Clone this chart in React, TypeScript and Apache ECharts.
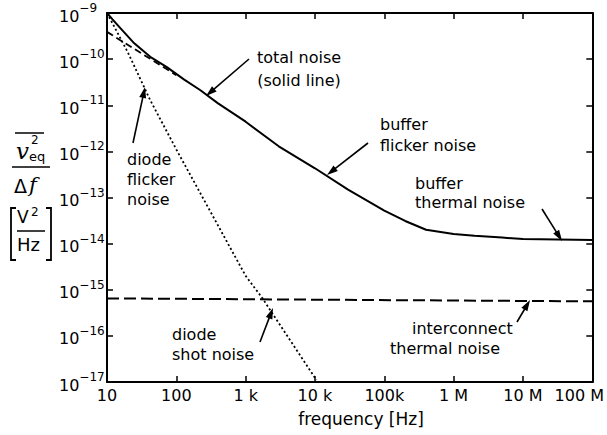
import React, { useEffect, useRef } from "react";
import * as echarts from "echarts";

// ---- data ----
const xTickLabels = ["10", "100", "1 k", "10 k", "100k", "1 M", "10 M", "100 M"];

const totalFreq = [10, 12, 15, 24, 42, 73, 130, 220, 400, 1e3, 3e3, 1e4, 3e4, 1e5, 2e5, 4e5, 1e6, 2e6, 5e6, 1e7, 1e8];
const totalNoise = [1e-9, 7.3e-10, 5.0e-10, 2.3e-10, 1.12e-10, 6.7e-11, 3.6e-11, 2.14e-11, 1.1e-11, 4.4e-12, 1.29e-12, 4.3e-13, 1.48e-13, 5.2e-14, 3.1e-14, 2.0e-14, 1.62e-14, 1.48e-14, 1.35e-14, 1.26e-14, 1.2e-14];

const diodeFreq = [10, 20, 42, 100, 1000, 1740, 10500];
const diodeNoise = [1e-9, 1.4e-10, 1.29e-11, 1.1e-12, 2.0e-15, 6.6e-16, 1.1e-17];

const bufferFlickerFreq = [10, 100];
const bufferFlickerNoise = [3.9e-10, 4.5e-11];

const interconnectFreq = [10, 1e8];
const interconnectNoise = [6.5e-16, 5.6e-16];

const FONT = "DejaVu Sans";

function pairs(xs: number[], ys: number[]) {
  return xs.map((x, i) => [x, ys[i]]);
}

function arrow(x1: number, y1: number, x2: number, y2: number) {
  const dx = x2 - x1, dy = y2 - y1;
  const L = Math.hypot(dx, dy);
  const ux = dx / L, uy = dy / L;
  const hl = 11, hw = 3.5;
  const bx = x2 - ux * hl, by = y2 - uy * hl;
  return [
    { type: "line", shape: { x1, y1, x2: bx + ux * 2, y2: by + uy * 2 }, style: { stroke: "#000", lineWidth: 1.6 } },
    {
      type: "polygon",
      shape: { points: [[x2, y2], [bx - uy * hw, by + ux * hw], [bx + uy * hw, by - ux * hw]] },
      style: { fill: "#000" },
    },
  ];
}

function txt(text: string, x: number, y: number, opts: any = {}) {
  return {
    type: "text",
    x,
    y,
    style: {
      text,
      fill: "#000",
      fontFamily: FONT,
      fontSize: 16,
      align: "left",
      verticalAlign: "middle",
      ...opts,
    },
  };
}

export default function App() {
  const ref = useRef<HTMLDivElement>(null);

  useEffect(() => {
    const chart = echarts.init(ref.current!, null, { renderer: "svg" });

    const axisLine = { show: true, lineStyle: { color: "#000", width: 2 } };
    const axisTick = { show: true, inside: true, length: 6, lineStyle: { color: "#000", width: 1.5 } };

    const graphic: any[] = [
      // annotations
      txt("total noise", 299, 57, { align: "center" }),
      txt("(solid line)", 299, 80, { align: "center" }),
      ...arrow(249, 59, 206, 96),

      txt("buffer", 380, 124),
      txt("flicker noise", 380, 145),
      ...arrow(368, 143, 327, 175),

      txt("buffer", 415, 183),
      txt("thermal noise", 415, 202),
      ...arrow(542, 209, 562, 241),

      txt("diode", 127, 159),
      txt("flicker", 127, 179),
      txt("noise", 127, 199),
      ...arrow(133, 143, 145, 87),

      txt("diode", 172, 334),
      txt("shot noise", 172, 354),
      ...arrow(260, 342, 273, 308),

      txt("interconnect", 412, 328),
      txt("thermal noise", 390, 348),
      ...arrow(517, 322, 530, 300),

      // x axis title
      txt("frequency [Hz]", 361, 419, { align: "center", fontSize: 17 }),

      // y axis title: overline v^2_eq / Δf, [V^2/Hz]
      { type: "line", shape: { x1: 15, y1: 133, x2: 44, y2: 133 }, style: { stroke: "#000", lineWidth: 1.5 } },
      txt("v", 16, 151, { fontFamily: "DejaVu Serif", fontStyle: "italic", fontSize: 23 }),
      txt("2", 31, 140, { fontSize: 12 }),
      txt("eq", 29, 156, { fontSize: 13 }),
      { type: "line", shape: { x1: 12, y1: 167, x2: 50, y2: 167 }, style: { stroke: "#000", lineWidth: 1.5 } },
      txt("Δ", 14, 186, { fontSize: 19 }),
      txt("f", 29, 185, { fontFamily: "DejaVu Serif", fontStyle: "italic", fontSize: 21 }),
      {
        type: "polyline",
        shape: { points: [[16, 208], [11, 208], [11, 260], [16, 260]] },
        style: { stroke: "#000", lineWidth: 1.8, fill: null },
      },
      {
        type: "polyline",
        shape: { points: [[46, 208], [51, 208], [51, 260], [46, 260]] },
        style: { stroke: "#000", lineWidth: 1.8, fill: null },
      },
      txt("V", 17, 217, { fontSize: 17 }),
      txt("2", 31, 212, { fontSize: 12 }),
      { type: "line", shape: { x1: 17, y1: 231, x2: 45, y2: 231 }, style: { stroke: "#000", lineWidth: 1.5 } },
      txt("Hz", 17, 244, { fontSize: 18 }),
    ];

    const option: any = {
      animation: false,
      backgroundColor: "#fff",
      grid: { left: 107, right: 13, top: 13, bottom: 53, containLabel: false },
      xAxis: [
        {
          type: "log",
          logBase: 10,
          min: 10,
          max: 1e8,
          splitNumber: 7,
          axisLine,
          axisTick,
          splitLine: { show: false },
          axisLabel: {
            color: "#000",
            fontFamily: FONT,
            fontSize: 16,
            margin: 5,
            formatter: (v: number) => {
              const i = Math.round(Math.log10(v)) - 1;
              if (i === xTickLabels.length - 1) return "{last|" + xTickLabels[i] + "}";
              return xTickLabels[i] ?? "";
            },
            rich: {
              last: { fontFamily: FONT, fontSize: 16, color: "#000", padding: [0, 26, 0, 0] },
            },
          },
        },
        {
          type: "log",
          logBase: 10,
          min: 10,
          max: 1e8,
          splitNumber: 7,
          position: "top",
          axisLine,
          axisTick,
          splitLine: { show: false },
          axisLabel: { show: false },
        },
      ],
      yAxis: [
        {
          type: "log",
          logBase: 10,
          min: 1e-17,
          max: 1e-9,
          splitNumber: 8,
          axisLine,
          axisTick,
          splitLine: { show: false },
          axisLabel: {
            align: "left",
            margin: 48,
            formatter: (v: number) => {
              const e = Math.round(Math.log10(v));
              return "{b|10}{s|−" + -e + "}";
            },
            rich: {
              b: { fontFamily: FONT, fontSize: 16, color: "#000", lineHeight: 16, padding: [6, 0, 0, 0] },
              s: { fontFamily: FONT, fontSize: 12, color: "#000", lineHeight: 12, padding: [0, 0, 10, 0] },
            },
          },
        },
        {
          type: "log",
          logBase: 10,
          min: 1e-17,
          max: 1e-9,
          splitNumber: 8,
          position: "right",
          axisLine,
          axisTick,
          splitLine: { show: false },
          axisLabel: { show: false },
        },
      ],
      series: [
        {
          name: "total noise",
          type: "line",
          data: pairs(totalFreq, totalNoise),
          showSymbol: false,
          symbol: "none",
          smooth: false,
          lineStyle: { color: "#000", width: 2, type: "solid" },
        },
        {
          name: "diode noise",
          type: "line",
          data: pairs(diodeFreq, diodeNoise),
          showSymbol: false,
          symbol: "none",
          smooth: false,
          lineStyle: { color: "#000", width: 1.8, type: [2, 2.5] },
        },
        {
          name: "buffer flicker noise",
          type: "line",
          data: pairs(bufferFlickerFreq, bufferFlickerNoise),
          showSymbol: false,
          symbol: "none",
          lineStyle: { color: "#000", width: 1.8, type: [7, 4] },
        },
        {
          name: "interconnect thermal noise",
          type: "line",
          data: pairs(interconnectFreq, interconnectNoise),
          showSymbol: false,
          symbol: "none",
          lineStyle: { color: "#000", width: 2, type: [12, 5] },
        },
      ],
      graphic,
    };

    chart.setOption(option);
    return () => chart.dispose();
  }, []);

  return (
    <div
      ref={ref}
      style={{ position: "fixed", left: 0, top: 0, width: 607, height: 435, background: "#fff" }}
    />
  );
}
